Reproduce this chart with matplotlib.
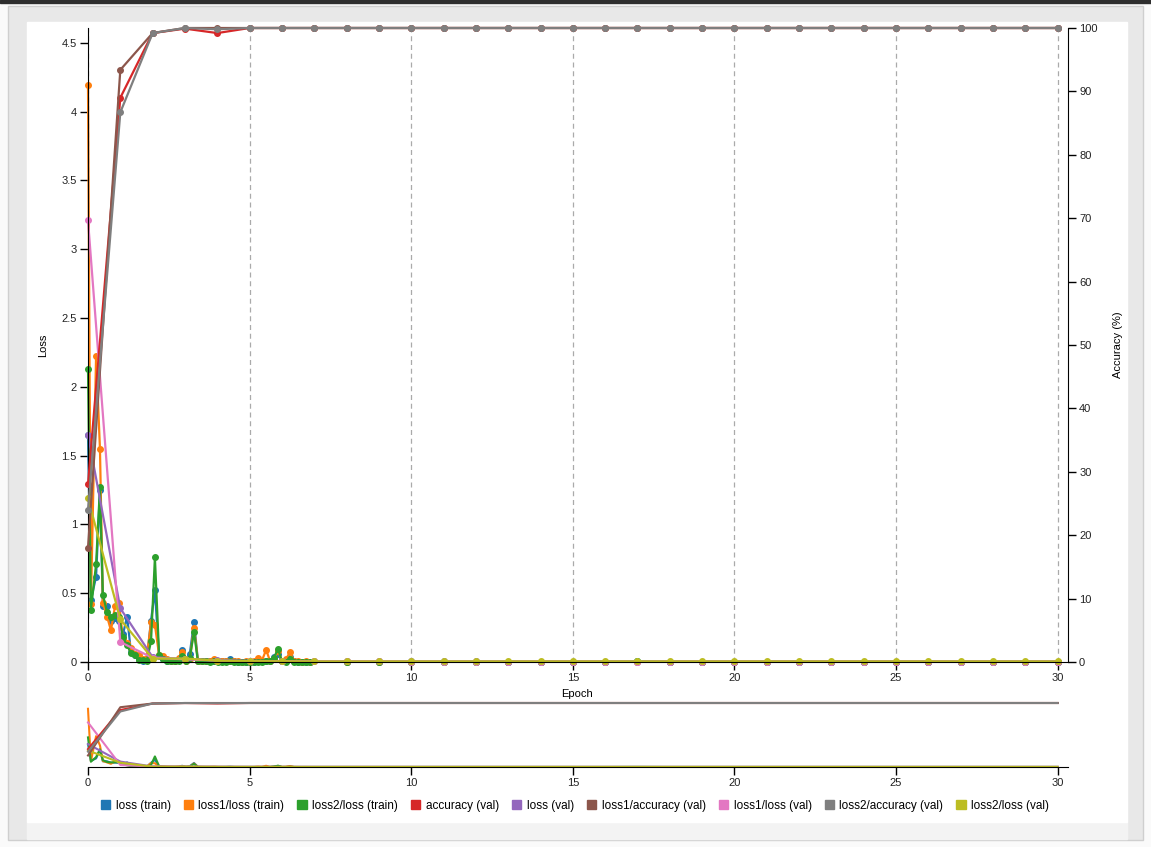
import matplotlib
matplotlib.use("Agg")
import matplotlib.pyplot as plt
from matplotlib.patches import Rectangle, Patch

plt.rcParams['font.family'] = ['Liberation Sans', 'DejaVu Sans']

# ---- data ----
# training log (logged several times per epoch)
train_epoch = [0.0, 0.09, 0.25, 0.37, 0.46, 0.59, 0.71, 0.84, 0.96, 1.08,
               1.21, 1.33, 1.45, 1.58, 1.70, 1.82, 1.95, 2.07, 2.20, 2.32,
               2.44, 2.57, 2.69, 2.81, 2.91, 3.03, 3.15, 3.28, 3.40, 3.53,
               3.65, 3.77, 3.90, 4.02, 4.14, 4.27, 4.39, 4.52, 4.64, 4.76,
               4.89, 5.01, 5.13, 5.26, 5.38, 5.51, 5.63, 5.75, 5.88, 6.00,
               6.12, 6.25, 6.37, 6.50, 6.62, 6.74, 6.87,
               8, 9, 10, 11, 12, 13, 14, 15, 16, 17, 18, 19, 20, 21, 22, 23,
               24, 25, 26, 27, 28, 29, 30]
loss_train = [1.65, 0.45, 0.62, 1.25, 0.41, 0.41, 0.30, 0.32, 0.30, 0.20,
              0.33, 0.07, 0.05, 0.02, 0.01, 0.02, 0.30, 0.52, 0.04, 0.02,
              0.01, 0.01, 0.01, 0.02, 0.087, 0.02, 0.06, 0.29, 0.01, 0.005,
              0.004, 0.004, 0.005, 0.004, 0.004, 0.006, 0.02, 0.004, 0.003, 0.003,
              0.003, 0.003, 0.003, 0.004, 0.004, 0.01, 0.005, 0.035, 0.06, 0.005,
              0.004, 0.035, 0.004, 0.003, 0.003, 0.003, 0.003,
              0.003, 0.003, 0.003, 0.003, 0.003, 0.003, 0.003, 0.003, 0.003, 0.004, 0.003, 0.003,
              0.003, 0.003, 0.003, 0.003, 0.003, 0.003, 0.003, 0.003, 0.003, 0.003, 0.003]
loss1_train = [4.19, 0.42, 2.22, 1.55, 0.43, 0.33, 0.23, 0.41, 0.43, 0.17,
               0.14, 0.10, 0.06, 0.05, 0.02, 0.03, 0.29, 0.27, 0.05, 0.04,
               0.02, 0.01, 0.01, 0.03, 0.07, 0.01, 0.02, 0.25, 0.01, 0.008,
               0.006, 0.01, 0.02, 0.008, 0.005, 0.004, 0.005, 0.004, 0.004, 0.003,
               0.004, 0.003, 0.005, 0.03, 0.01, 0.087, 0.01, 0.02, 0.08, 0.01,
               0.02, 0.07, 0.008, 0.004, 0.003, 0.004, 0.003,
               0.003, 0.003, 0.003, 0.003, 0.003, 0.003, 0.003, 0.003, 0.003, 0.003, 0.003, 0.003,
               0.003, 0.003, 0.003, 0.003, 0.003, 0.003, 0.003, 0.003, 0.003, 0.003, 0.003]
loss2_train = [2.13, 0.38, 0.71, 1.27, 0.49, 0.36, 0.33, 0.34, 0.33, 0.18,
               0.12, 0.065, 0.05, 0.015, 0.015, 0.01, 0.15, 0.76, 0.05, 0.02,
               0.01, 0.01, 0.005, 0.01, 0.045, 0.01, 0.03, 0.22, 0.005, 0.004,
               0.004, 0.003, 0.004, 0.003, 0.003, 0.003, 0.004, 0.003, 0.003, 0.003,
               0.003, 0.002, 0.002, 0.003, 0.003, 0.005, 0.004, 0.03, 0.095, 0.005,
               0.003, 0.02, 0.003, 0.002, 0.002, 0.002, 0.002,
               0.002, 0.002, 0.002, 0.002, 0.002, 0.002, 0.002, 0.002, 0.002, 0.006, 0.002, 0.002,
               0.002, 0.002, 0.002, 0.002, 0.002, 0.002, 0.002, 0.002, 0.002, 0.002, 0.002]

# validation log (once per epoch)
val_epoch = list(range(31))
acc_val = [28, 89.0, 99.2, 99.9, 99.2, 100, 100, 100, 100, 100, 100,
           100, 100, 100, 100, 100, 100, 100, 100, 100, 100,
           100, 100, 100, 100, 100, 100, 100, 100, 100, 100]
loss_val = [1.65, 0.39, 0.035, 0.022, 0.012, 0.008, 0.006, 0.005, 0.005, 0.004, 0.004,
            0.004, 0.004, 0.003, 0.003, 0.003, 0.003, 0.003, 0.003, 0.003, 0.003,
            0.003, 0.003, 0.003, 0.003, 0.003, 0.003, 0.003, 0.003, 0.003, 0.003]
loss1_acc_val = [18, 93.4, 99.2, 100, 100, 100, 100, 100, 100, 100, 100,
                 100, 100, 100, 100, 100, 100, 100, 100, 100, 100,
                 100, 100, 100, 100, 100, 100, 100, 100, 100, 100]
loss1_loss_val = [3.21, 0.145, 0.03, 0.02, 0.01, 0.006, 0.005, 0.004, 0.004, 0.004, 0.003,
                  0.003, 0.003, 0.003, 0.003, 0.003, 0.003, 0.003, 0.003, 0.003, 0.003,
                  0.003, 0.003, 0.003, 0.003, 0.003, 0.003, 0.003, 0.003, 0.003, 0.003]
loss2_acc_val = [24, 86.7, 99.2, 100, 99.8, 100, 100, 100, 100, 100, 100,
                 100, 100, 100, 100, 100, 100, 100, 100, 100, 100,
                 100, 100, 100, 100, 100, 100, 100, 100, 100, 100]
loss2_loss_val = [1.19, 0.31, 0.025, 0.025, 0.01, 0.006, 0.005, 0.004, 0.004, 0.004, 0.004,
                  0.004, 0.004, 0.004, 0.004, 0.004, 0.004, 0.004, 0.004, 0.004, 0.004,
                  0.004, 0.004, 0.004, 0.004, 0.004, 0.004, 0.004, 0.004, 0.004, 0.004]

names = ['loss (train)', 'loss1/loss (train)', 'loss2/loss (train)', 'accuracy (val)',
         'loss (val)', 'loss1/accuracy (val)', 'loss1/loss (val)',
         'loss2/accuracy (val)', 'loss2/loss (val)']
colors = ['#1f77b4', '#ff7f0e', '#2ca02c', '#d62728', '#9467bd',
          '#8c564b', '#e377c2', '#7f7f7f', '#bcbd22']

# (x, y, which axis)
series = [
    (train_epoch, loss_train, 'loss'),
    (train_epoch, loss1_train, 'loss'),
    (train_epoch, loss2_train, 'loss'),
    (val_epoch, acc_val, 'acc'),
    (val_epoch, loss_val, 'loss'),
    (val_epoch, loss1_acc_val, 'acc'),
    (val_epoch, loss1_loss_val, 'loss'),
    (val_epoch, loss2_acc_val, 'acc'),
    (val_epoch, loss2_loss_val, 'loss'),
]

W, H = 1151, 847
fig = plt.figure(figsize=(W / 100, H / 100), dpi=100)
fig.patch.set_facecolor('#fafafa')


def box(x0, y0, x1, y1):
    # pixel box (top-left origin) -> figure fraction rect
    return [x0 / W, 1 - y1 / H, (x1 - x0) / W, (y1 - y0) / H]


def rect(x0, y0, x1, y1, **kw):
    l, b, w, h = box(x0, y0, x1, y1)
    fig.patches.append(Rectangle((l, b), w, h, transform=fig.transFigure,
                                 zorder=-10, **kw))


# page background / panel
rect(0, 0, W, 3, color='#2e2e2e')
rect(8, 6, 1143, 840, facecolor='#e8e8e8', edgecolor='#cfcfcf', lw=1)
rect(27, 822, 1127, 839, color='#f3f3f3')
rect(27, 22, 1127, 822, color='white')

XMAX = 30.32
LMAX = 4.607
tick_kw = dict(labelsize=8, length=6, width=1, colors='black', labelcolor='#222222')

# ---- main chart ----
ax = fig.add_axes(box(88, 28, 1068, 662))
ax2 = ax.twinx()
ax.set_facecolor('none')
for (x, y, which), c in zip(series, colors):
    a = ax if which == 'loss' else ax2
    a.plot(x, y, color=c, lw=1.6, marker='o', ms=4, mec=c, mfc=c, clip_on=False)

ax.set_xlim(0, XMAX)
ax.set_ylim(0, LMAX)
ax2.set_ylim(0, 100)
ax.set_xticks(range(0, 31, 5))
ax.set_yticks([0, 0.5, 1, 1.5, 2, 2.5, 3, 3.5, 4, 4.5])
ax.set_yticklabels(['0', '0.5', '1', '1.5', '2', '2.5', '3', '3.5', '4', '4.5'])
ax2.set_yticks(range(0, 101, 10))
ax.grid(axis='x', color='#aaaaaa', lw=0.9, ls=(0, (4, 3)))
ax.tick_params(axis='both', **tick_kw, pad=2)
ax2.tick_params(axis='y', **tick_kw, pad=2)
for a in (ax, ax2):
    a.spines['top'].set_visible(False)
ax.spines['right'].set_visible(False)
ax2.spines['left'].set_visible(False)
ax2.spines['bottom'].set_visible(False)

ax.set_xlabel('Epoch', fontsize=8)
ax.xaxis.set_label_coords(0.499, -0.043)
ax.set_ylabel('Loss', fontsize=8)
ax.yaxis.set_label_coords(-0.041, 0.5)
ax2.set_ylabel('Accuracy (%)', fontsize=8, rotation=90)
ax2.yaxis.set_label_coords(1.046, 0.5)

# ---- overview strip under the chart ----
cx = fig.add_axes(box(88, 703, 1068, 767))
cx2 = cx.twinx()
cx.set_facecolor('none')
for (x, y, which), c in zip(series, colors):
    a = cx if which == 'loss' else cx2
    a.plot(x, y, color=c, lw=1.5, clip_on=False)
cx.set_xlim(0, XMAX)
cx.set_ylim(0, LMAX)
cx2.set_ylim(0, 100)
cx.set_xticks(range(0, 31, 5))
cx.set_yticks([])
cx2.set_yticks([])
cx.tick_params(axis='x', **tick_kw, pad=2)
for a in (cx, cx2):
    for s in ('top', 'left', 'right'):
        a.spines[s].set_visible(False)
cx2.spines['bottom'].set_visible(False)

# ---- legend ----
handles = [Patch(facecolor=c, edgecolor=c) for c in colors]
fig.legend(handles, names, loc='center', bbox_to_anchor=(575 / W, 1 - 806 / H),
           ncol=9, frameon=False, fontsize=8.5, handlelength=0.8, handleheight=0.8,
           handletextpad=0.45, columnspacing=1.1, borderpad=0)

fig.savefig('out.png', dpi=100, facecolor=fig.get_facecolor())
